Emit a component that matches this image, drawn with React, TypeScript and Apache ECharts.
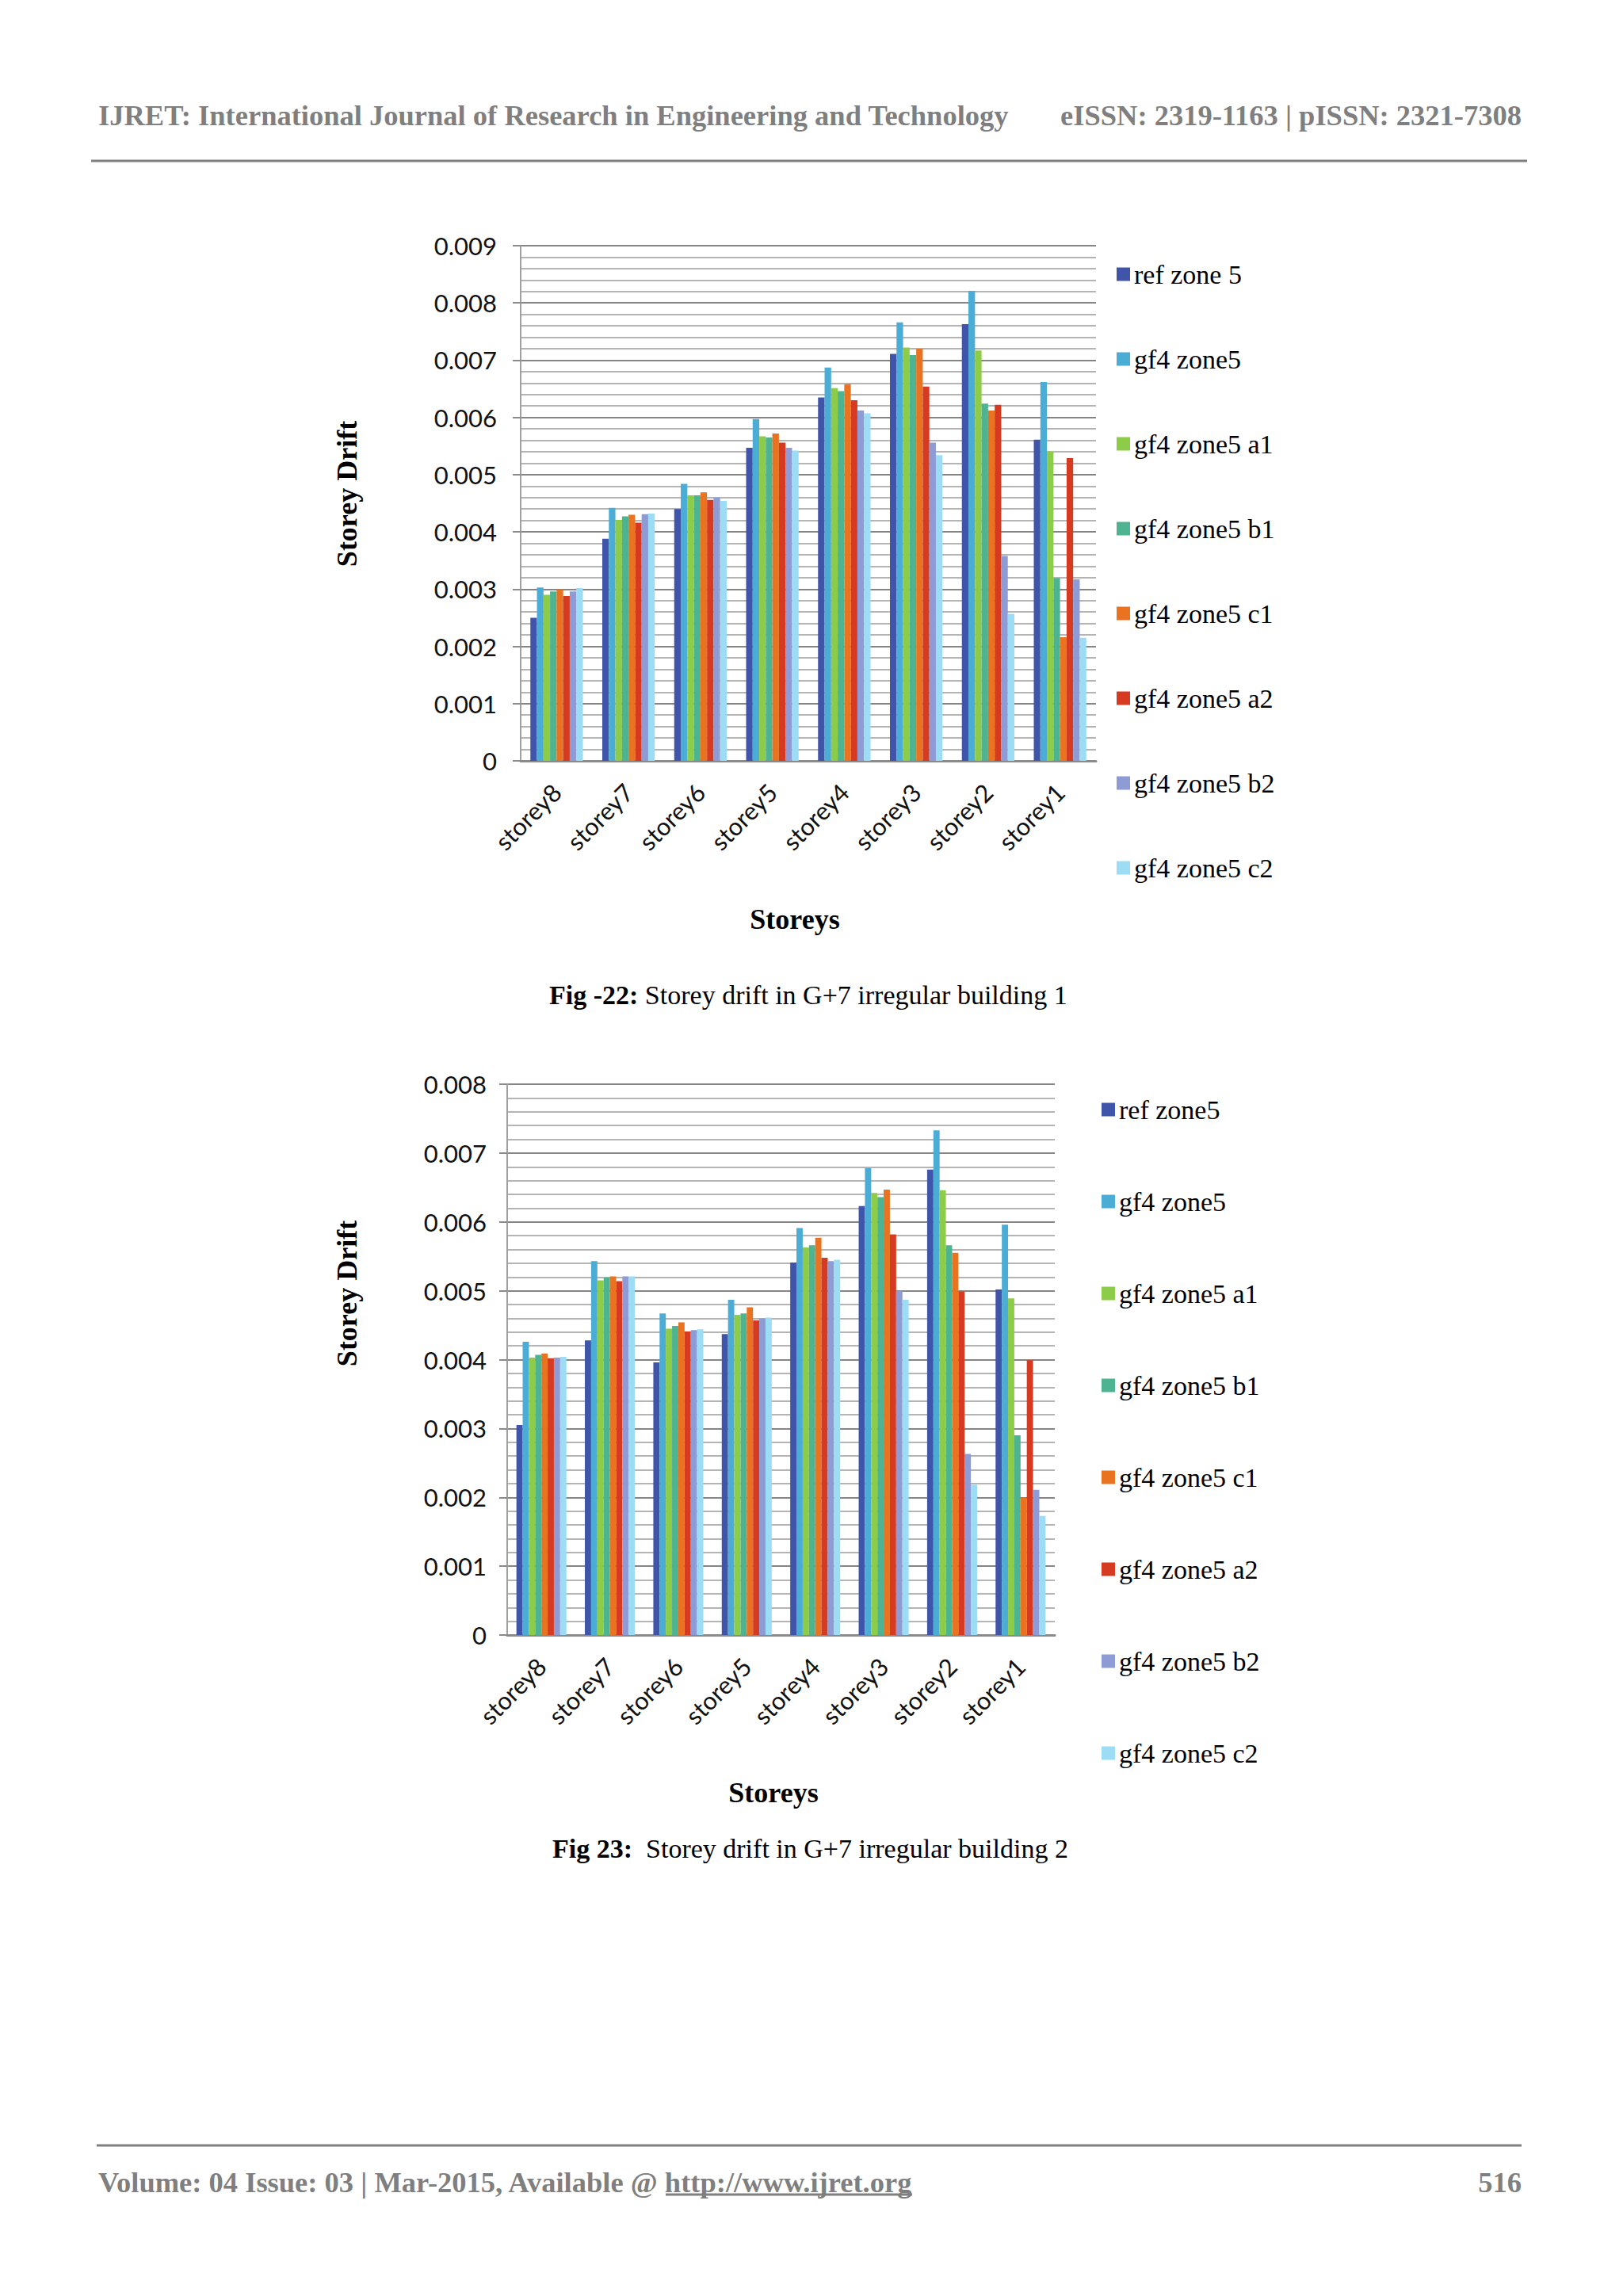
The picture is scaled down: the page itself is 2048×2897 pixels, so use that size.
import React, { useEffect, useRef } from "react";
import * as echarts from "echarts";

const categories = ["storey8", "storey7", "storey6", "storey5", "storey4", "storey3", "storey2", "storey1"];

const names1 = ["ref zone 5", "gf4 zone5", "gf4 zone5 a1", "gf4 zone5 b1", "gf4 zone5 c1", "gf4 zone5 a2", "gf4 zone5 b2", "gf4 zone5 c2"];
const names2 = ["ref zone5", "gf4 zone5", "gf4 zone5 a1", "gf4 zone5 b1", "gf4 zone5 c1", "gf4 zone5 a2", "gf4 zone5 b2", "gf4 zone5 c2"];

const colors = ["#4054A9", "#4BADD6", "#8DCC48", "#4DB390", "#E97321", "#D63B22", "#8E9BD5", "#9DDCF5"];

// Fig 22 – building 1
const b1Ref = [0.0025, 0.00388, 0.0044, 0.00547, 0.00635, 0.00711, 0.00763, 0.00561];
const b1Gf4 = [0.00303, 0.00442, 0.00484, 0.00597, 0.00687, 0.00766, 0.00821, 0.00662];
const b1A1 = [0.0029, 0.00421, 0.00464, 0.00567, 0.00651, 0.00722, 0.00717, 0.0054];
const b1B1 = [0.00296, 0.00427, 0.00464, 0.00565, 0.00646, 0.00709, 0.00624, 0.00319];
const b1C1 = [0.00299, 0.0043, 0.00469, 0.00572, 0.00658, 0.0072, 0.00612, 0.00216];
const b1A2 = [0.00288, 0.00416, 0.00456, 0.00556, 0.0063, 0.00654, 0.00622, 0.00529];
const b1B2 = [0.00296, 0.00431, 0.0046, 0.00547, 0.00612, 0.00556, 0.00358, 0.00317];
const b1C2 = [0.00302, 0.00432, 0.00454, 0.00542, 0.00607, 0.00534, 0.00257, 0.00215];

// Fig 23 – building 2
const b2Ref = [0.00305, 0.00428, 0.00396, 0.00437, 0.00541, 0.00623, 0.00676, 0.00502];
const b2Gf4 = [0.00426, 0.00543, 0.00467, 0.00487, 0.00591, 0.00678, 0.00733, 0.00596];
const b2A1 = [0.00403, 0.00515, 0.00445, 0.00465, 0.00563, 0.00642, 0.00646, 0.00489];
const b2B1 = [0.00407, 0.00519, 0.00449, 0.00467, 0.00566, 0.00636, 0.00566, 0.0029];
const b2C1 = [0.00409, 0.00521, 0.00454, 0.00476, 0.00577, 0.00647, 0.00555, 0.00199];
const b2A2 = [0.00402, 0.00514, 0.00441, 0.00457, 0.00548, 0.00582, 0.00499, 0.00399];
const b2B2 = [0.00403, 0.00521, 0.00443, 0.0046, 0.00543, 0.005, 0.00263, 0.00211];
const b2C2 = [0.00404, 0.00521, 0.00444, 0.00461, 0.00545, 0.00487, 0.00218, 0.00173];

const data1 = [b1Ref, b1Gf4, b1A1, b1B1, b1C1, b1A2, b1B2, b1C2];
const data2 = [b2Ref, b2Gf4, b2A1, b2B1, b2C1, b2A2, b2B2, b2C2];

const yMax1 = 0.009;
const yMax2 = 0.008;
const yStep = 0.001;

const GRAY = "#7f7f7f";
const SANS = "Lato";
const SERIF = "Liberation Serif";

function xAxisCfg(gridIndex: number) {
  return {
    type: "category",
    gridIndex,
    data: categories,
    axisLine: { show: true, lineStyle: { color: "#8a8a8a", width: 3 } },
    axisTick: { show: false },
    axisLabel: { rotate: 45, fontFamily: SANS, fontSize: 31, color: "#111", margin: 34, interval: 0 },
    splitLine: { show: false },
  };
}

function yAxisCfg(gridIndex: number, max: number, margin: number) {
  return {
    type: "value",
    gridIndex,
    min: 0,
    max,
    interval: yStep,
    axisLine: { show: true, lineStyle: { color: "#a0a0a0", width: 2 } },
    axisTick: { show: true, length: 10, lineStyle: { color: "#8a8a8a", width: 2 } },
    axisLabel: {
      fontFamily: SANS,
      fontSize: 31,
      color: "#111",
      margin,
      formatter: (v: number) => (v === 0 ? "0" : v.toFixed(3)),
    },
    splitLine: { show: true, lineStyle: { color: "#858585", width: 2 } },
    minorTick: { show: false, splitNumber: 5 },
    minorSplitLine: { show: true, lineStyle: { color: "#b4b4b4", width: 2 } },
  };
}

function legendCfg(names: string[], left: number, top: number, gap: number) {
  return {
    data: names,
    orient: "vertical",
    left,
    top,
    padding: 0,
    itemWidth: 17,
    itemHeight: 17,
    itemGap: gap,
    icon: "rect",
    selectedMode: false,
    textStyle: { fontFamily: SERIF, fontSize: 34, color: "#000", lineHeight: 34 },
  };
}

function txt(x: number, y: number, text: string, opts: any = {}) {
  return {
    type: "text",
    x,
    y,
    rotation: opts.rotation || 0,
    style: {
      text,
      fill: opts.fill || "#000",
      font: opts.font || `36px ${SERIF}`,
      align: opts.align || "left",
      verticalAlign: "middle",
      rich: opts.rich,
    },
  };
}

export default function App() {
  const ref = useRef<HTMLDivElement>(null);
  useEffect(() => {
    document.body.style.margin = "0";
    if (!ref.current) return;
    const chart = echarts.init(ref.current, undefined, { renderer: "svg" });

    const series: any[] = [];
    names1.forEach((n, i) =>
      series.push({
        name: n,
        type: "bar",
        xAxisIndex: 0,
        yAxisIndex: 0,
        data: data1[i],
        itemStyle: { color: colors[i] },
        barGap: "0%",
        barCategoryGap: "27%",
      })
    );
    names2.forEach((n, i) =>
      series.push({
        name: n,
        type: "bar",
        xAxisIndex: 1,
        yAxisIndex: 1,
        data: data2[i],
        itemStyle: { color: colors[i] },
        barGap: "0%",
        barCategoryGap: "27%",
      })
    );

    const boldSerif = `bold 36px ${SERIF}`;
    const boldPage = `bold 36.5px ${SERIF}`;

    chart.setOption({
      animation: false,
      backgroundColor: "#fff",
      grid: [
        { left: 657, top: 310, width: 726, height: 650, containLabel: false },
        { left: 640, top: 1368, width: 691, height: 695, containLabel: false },
      ],
      xAxis: [xAxisCfg(0), xAxisCfg(1)],
      yAxis: [yAxisCfg(0, yMax1, 30), yAxisCfg(1, yMax2, 26)],
      legend: [legendCfg(names1, 1409, 329, 73), legendCfg(names2, 1390, 1383, 82)],
      series,
      graphic: [
        // header
        txt(124, 145, "IJRET: International Journal of Research in Engineering and Technology", { fill: GRAY, font: boldPage }),
        txt(1920, 145, "eISSN: 2319-1163 | pISSN: 2321-7308", { fill: GRAY, font: boldPage, align: "right" }),
        { type: "line", shape: { x1: 115, y1: 203, x2: 1927, y2: 203 }, style: { stroke: "#808080", lineWidth: 3 } },
        // chart 1 titles
        txt(438, 623, "Storey Drift", { font: boldSerif, align: "center", rotation: Math.PI / 2 }),
        txt(1003, 1160, "Storeys", { font: boldSerif, align: "center" }),
        txt(693, 1255, "{b|Fig -22:} Storey drift in G+7 irregular building 1", {
          font: `34px ${SERIF}`,
          rich: { b: { fontWeight: "bold", fontSize: 34, fontFamily: SERIF } },
        }),
        // chart 2 titles
        txt(438, 1632, "Storey Drift", { font: boldSerif, align: "center", rotation: Math.PI / 2 }),
        txt(976, 2262, "Storeys", { font: boldSerif, align: "center" }),
        txt(697, 2332, "{b|Fig 23:}  Storey drift in G+7 irregular building 2", {
          font: `34px ${SERIF}`,
          rich: { b: { fontWeight: "bold", fontSize: 34, fontFamily: SERIF } },
        }),
        // footer
        { type: "line", shape: { x1: 122, y1: 2707, x2: 1920, y2: 2707 }, style: { stroke: "#808080", lineWidth: 3 } },
        txt(124, 2753, "Volume: 04 Issue: 03 | Mar-2015, Available @ http://www.ijret.org", { fill: GRAY, font: boldPage }),
        { type: "line", shape: { x1: 840, y1: 2769, x2: 1151, y2: 2769 }, style: { stroke: GRAY, lineWidth: 3 } },
        txt(1920, 2753, "516", { fill: GRAY, font: boldPage, align: "right" }),
      ],
    });
    return () => chart.dispose();
  }, []);
  return <div ref={ref} style={{ position: "absolute", left: 0, top: 0, width: 2048, height: 2897 }} />;
}
